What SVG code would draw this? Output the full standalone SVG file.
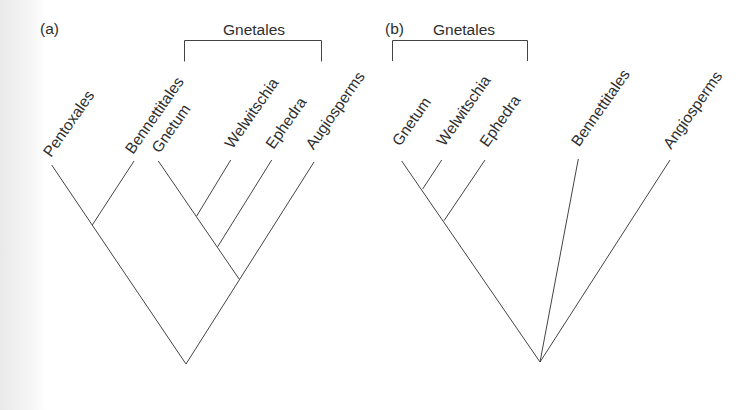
<svg xmlns="http://www.w3.org/2000/svg" width="756" height="410" viewBox="0 0 756 410">
<defs>
<linearGradient id="edge" x1="0" y1="0" x2="1" y2="0">
<stop offset="0" stop-color="#e9e9e9"/>
<stop offset="0.7" stop-color="#f6f6f6"/>
<stop offset="1" stop-color="#ffffff"/>
</linearGradient>
<style>
.t{font-family:"Liberation Sans",Arial,sans-serif;font-size:15.5px;fill:#2e2e2e}
.h{font-family:"Liberation Sans",Arial,sans-serif;font-size:15.5px;fill:#2e2e2e}
.e{stroke:#444;stroke-width:1;fill:none}
</style>
</defs>
<rect width="756" height="410" fill="#fff"/>
<rect x="0" y="0" width="46" height="410" fill="url(#edge)"/>

<g id="panel-a">
<text class="h" x="40" y="34">(a)</text>
<g id="a-gnetales-bracket">
<text class="h" x="254" y="35" text-anchor="middle">Gnetales</text>
<path class="e" d="M184.5,61.5 V40.5 H321.5 V61.5"/>
</g>
<g id="a-pentoxales"><text class="t" transform="translate(51,158) rotate(-55)">Pentoxales</text></g>
<g id="a-bennettitales"><text class="t" transform="translate(133,155) rotate(-55)">Bennettitales</text></g>
<g id="a-gnetum"><text class="t" transform="translate(159.5,154) rotate(-55)">Gnetum</text></g>
<g id="a-welwitschia"><text class="t" transform="translate(232.5,149.5) rotate(-55)">Welwitschia</text></g>
<g id="a-ephedra"><text class="t" transform="translate(273.5,150) rotate(-55)">Ephedra</text></g>
<g id="a-augiosperms"><text class="t" transform="translate(313.5,150.5) rotate(-55)">Augiosperms</text></g>
</g>

<g id="panel-b">
<text class="h" x="385" y="34">(b)</text>
<g id="b-gnetales-bracket">
<text class="h" x="464" y="34.5" text-anchor="middle">Gnetales</text>
<path class="e" d="M392.5,61 V40.5 H527.5 V61"/>
</g>
<g id="b-gnetum"><text class="t" transform="translate(400,147) rotate(-55)">Gnetum</text></g>
<g id="b-welwitschia"><text class="t" transform="translate(444.5,147) rotate(-55)">Welwitschia</text></g>
<g id="b-ephedra"><text class="t" transform="translate(487.5,148) rotate(-55)">Ephedra</text></g>
<g id="b-bennettitales"><text class="t" transform="translate(579,147.5) rotate(-55)">Bennettitales</text></g>
<g id="b-angiosperms"><text class="t" transform="translate(671,150) rotate(-55)">Angiosperms</text></g>
</g>

<g id="connectors" class="e">
<line x1="51.7" y1="165" x2="186" y2="364"/>
<line x1="134" y1="161" x2="92.3" y2="225"/>
<line x1="158.3" y1="161" x2="239.3" y2="279.3"/>
<line x1="230.7" y1="160" x2="196.7" y2="216"/>
<line x1="271.7" y1="160" x2="217.7" y2="246.7"/>
<line x1="314" y1="162" x2="186" y2="364"/>
<line x1="401.7" y1="161" x2="540" y2="362"/>
<line x1="441.7" y1="160" x2="422.7" y2="189"/>
<line x1="485" y1="160" x2="444" y2="220.7"/>
<line x1="578.3" y1="159" x2="540" y2="362"/>
<line x1="670" y1="160" x2="540" y2="362"/>
</g>
</svg>
